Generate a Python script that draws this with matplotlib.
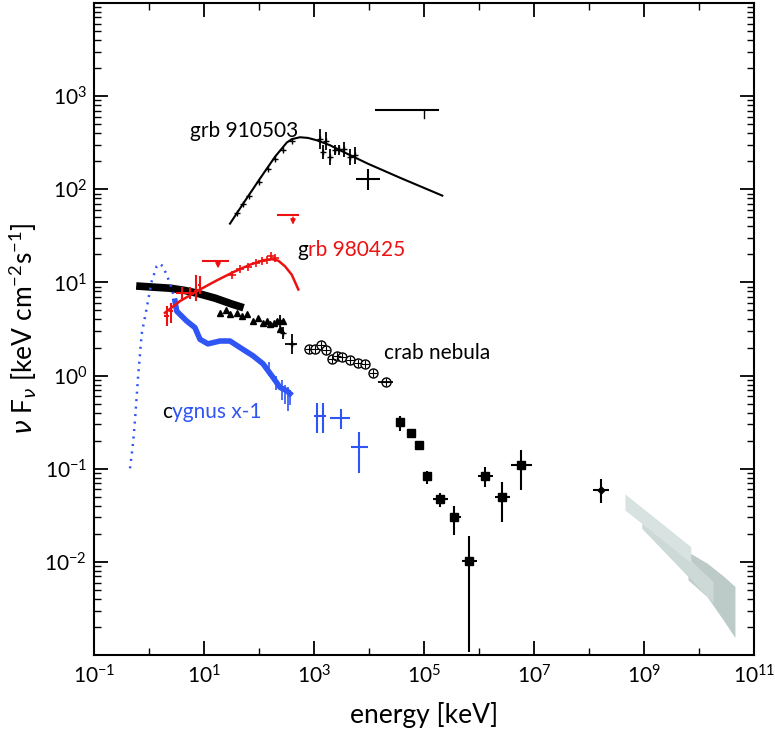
import matplotlib
matplotlib.use("Agg")
import matplotlib.pyplot as plt
from matplotlib.ticker import FixedLocator, FixedFormatter, LogLocator, NullFormatter

plt.rcParams['font.family'] = ['Lato', 'DejaVu Sans']
plt.rcParams['mathtext.default'] = 'regular'
plt.rcParams['axes.unicode_minus'] = False

RED = '#ee1111'
BLUE = '#2f55f5'

# grb 910503 - model curve and data
grb91_e = [29.7, 55.6, 104, 195, 319, 394, 556, 778, 1120, 1954, 3935, 9590, 3.66e4, 2.15e5]
grb91_f = [42.8, 75.0, 130, 223, 317, 345, 362, 356, 336, 297, 242, 188, 133, 85.5]
grb91_pt_e = [39.4, 50.6, 65.8, 98.8, 144, 198, 277, 403]
grb91_pt_f = [55.3, 69.0, 85.5, 121, 165, 209, 263, 333]
grb91_err_e = [1285, 1458, 1652, 1954, 2410, 2850, 3510, 4517, 5560]
grb91_err_f = [348, 252, 330, 223, 265, 272, 272, 223, 234]
grb91_err_lo = [272, 212, 265, 183, 234, 234, 223, 183, 188]
grb91_err_hi = [444, 299, 412, 272, 299, 299, 323, 272, 285]
grb91_big = (9590, 130, 5800, 1.58e4, 98.4, 167)
grb91_ul = (1.34e4, 1.78e5, 708, 1e5, 582)

# grb 980425
grb98_e = [1.95, 3.66, 8.45, 17, 34.1, 68.6, 120, 170, 225, 297, 394, 519]
grb98_f = [4.72, 6.3, 8.4, 10.5, 12.9, 15.5, 17.3, 17.8, 17.1, 14.9, 12.1, 8.4]
grb98_big_e = [2.12, 2.51, 3.98, 5.56, 7.16, 8.45]
grb98_big_f = [4.36, 4.92, 7.67, 7.67, 8.05, 9.33]
grb98_big_lo = [3.40, 3.66, 6.6, 6.6, 6.3, 7.5]
grb98_big_hi = [5.57, 6.0, 8.9, 8.9, 11.9, 11.6]
grb98_big_xlo = [1.87, 2.3, 3.1, 5.0, 6.5, 7.9]
grb98_big_xhi = [2.3, 2.75, 5.0, 6.5, 7.9, 9.0]
grb98_pt_e = [31.9, 45.2, 63.9, 88.1, 113, 140, 165, 195]
grb98_pt_f = [12.1, 14.1, 14.7, 16.2, 16.8, 17.4, 19.0, 18.3]
grb98_ul = [(221, 512, 53.6, 415, 38.9), (9.6, 27.3, 16.8, 18, 13.2)]

# cygnus x-1
disk_e = [0.452, 0.512, 0.556, 0.631, 0.736, 0.908, 1.12, 1.38, 1.54, 1.8, 2.21, 2.59, 2.97]
disk_f = [0.101, 0.187, 0.329, 0.946, 2.8, 5.3, 10.3, 14.9, 15.9, 14.9, 11.1, 8.67, 6.3]
cyg_e = [2.97, 3.19, 4.84, 6.85, 8.45, 11.8, 19.5, 29.7, 45.2, 77.8, 118, 180, 241, 319, 366]
cyg_f = [6.3, 4.92, 3.85, 3.27, 2.45, 2.19, 2.35, 2.35, 2.0, 1.63, 1.34, 0.955, 0.746, 0.689, 0.64]
cyg_sp_e = [150, 200, 260, 300, 340, 370]
cyg_sp_f = [1.2, 0.85, 0.72, 0.66, 0.62, 0.6]
cyg_sp_lo = [1.0, 0.7, 0.55, 0.5, 0.42, 0.48]
cyg_sp_hi = [1.4, 1.0, 0.9, 0.8, 0.75, 0.7]
cyg_hx_e = [1120, 1458, 3100, 6580]
cyg_hx_f = [0.372, 0.372, 0.354, 0.169]
cyg_hx_lo = [0.239, 0.239, 0.270, 0.0893]
cyg_hx_hi = [0.512, 0.512, 0.441, 0.245]
cyg_hx_xlo = [1000, 1290, 1954, 4710]
cyg_hx_xhi = [1290, 1650, 4517, 9590]

# crab nebula
crab_e = [0.686, 1.2, 2.41, 4.5, 7.46, 15.9, 32.3, 45]
crab_f = [9.1, 8.9, 8.67, 8.2, 7.67, 6.78, 5.85, 5.5]
crab_tri_e = [19.5, 25, 29.7, 39.8, 50, 60.5, 77.8, 95, 118, 140, 158, 185, 212, 241, 273]
crab_tri_f = [4.69, 5.0, 4.57, 4.69, 4.4, 4.57, 3.85, 4.1, 3.66, 3.9, 3.57, 3.7, 3.85, 3.16, 3.85]
crab_x_e = [241, 273, 398]
crab_x_f = [3.85, 2.87, 2.19]
crab_x_lo = [3.3, 2.5, 1.71]
crab_x_hi = [4.5, 3.3, 2.8]
crab_x_xlo = [225, 255, 297]
crab_x_xhi = [258, 292, 491]
crab_c_e = [811, 1042, 1340, 1652, 2123, 2618, 3228, 4517, 6310, 8450, 1.18e4, 2.04e4]
crab_c_f = [1.93, 1.93, 2.13, 1.89, 1.51, 1.63, 1.59, 1.47, 1.37, 1.34, 1.07, 0.859]
crab_sq_e = [3.66e4, 5.81e4, 8.11e4, 1.13e5, 1.95e5, 3.51e5, 6.58e5, 1.29e6, 2.62e6, 5.8e6]
crab_sq_f = [0.321, 0.239, 0.178, 0.083, 0.0471, 0.0303, 0.01026, 0.083, 0.0494, 0.109]
crab_sq_lo = [0.257, 0.215, 0.162, 0.0693, 0.0387, 0.0194, 0.00108, 0.0633, 0.0267, 0.0587]
crab_sq_hi = [0.372, 0.265, 0.195, 0.0946, 0.0546, 0.0396, 0.019, 0.1035, 0.0716, 0.157]
crab_sq_xlo = [3.3e4, 5.3e4, 7.5e4, 1.03e5, 1.46e5, 2.97e5, 4.84e5, 9.6e5, 1.95e6, 3.82e6]
crab_sq_xhi = [4.0e4, 6.3e4, 8.7e4, 1.23e5, 2.73e5, 4.71e5, 9.3e5, 1.8e6, 3.66e6, 9.2e6]
crab_gev = (1.65e8, 0.0587, 1.18e8, 2.31e8, 0.0427, 0.077)

# TeV bands
bandA_e = [4.5e8, 7.1e9]
bandA_lo = [0.036, 0.0098]
bandA_hi = [0.0537, 0.01456]
bandB_e = [9.1e8, 1.8e10]
bandB_lo = [0.0229, 0.00365]
bandB_hi = [0.0318, 0.00616]
bandC_e = [6.3e9, 1.4e10, 2.73e10, 4.5e10]
bandC_lo = [0.00643, 0.00423, 0.0024, 0.00154]
bandC_hi = [0.0128, 0.0097, 0.0071, 0.00545]


def asym(v, lo, hi):
    return [[a - b for a, b in zip(v, lo)], [b - a for a, b in zip(v, hi)]]


fig = plt.figure(figsize=(7.75, 7.4), dpi=100)
ax = fig.add_axes([94 / 775, 85 / 740, 660 / 775, 652 / 740])
ax.set_xscale('log')
ax.set_yscale('log')

ax.fill_between(bandC_e, bandC_lo, bandC_hi, color='#bccac8', lw=0)
ax.fill_between(bandB_e, bandB_lo, bandB_hi, color='#ccd9d7', lw=0)
ax.fill_between(bandA_e, bandA_lo, bandA_hi, color='#d8e3e1', lw=0)

# crab
ax.plot(crab_e, crab_f, color='k', lw=5.5)
ax.plot(crab_tri_e, crab_tri_f, 'k^', ms=4.5)
ax.errorbar(crab_x_e, crab_x_f, yerr=asym(crab_x_f, crab_x_lo, crab_x_hi),
            xerr=asym(crab_x_e, crab_x_xlo, crab_x_xhi), fmt='k+', ms=4, lw=1.3)
ax.plot(crab_c_e, crab_c_f, 'o', mfc='white', mec='k', ms=6.5, mew=1)
ax.plot(crab_c_e, crab_c_f, 'k+', ms=5.5, mew=0.8)
ax.errorbar(crab_c_e[-1:], crab_c_f[-1:], xerr=[[crab_c_e[-1] - 1.46e4], [2.73e4 - crab_c_e[-1]]],
            fmt='none', ecolor='k', lw=1.3)
ax.errorbar(crab_sq_e, crab_sq_f, yerr=asym(crab_sq_f, crab_sq_lo, crab_sq_hi),
            xerr=asym(crab_sq_e, crab_sq_xlo, crab_sq_xhi), fmt='ks', ms=6, lw=1.5)
ax.errorbar([crab_gev[0]], [crab_gev[1]], xerr=[[crab_gev[0] - crab_gev[2]], [crab_gev[3] - crab_gev[0]]],
            yerr=[[crab_gev[1] - crab_gev[4]], [crab_gev[5] - crab_gev[1]]], fmt='kD', ms=3.5, lw=1.5)

# cygnus x-1
ax.plot(disk_e, disk_f, color=BLUE, lw=1.8, ls=(0, (0.8, 2.2)))
ax.plot(cyg_e, cyg_f, color=BLUE, lw=4)
ax.errorbar(cyg_sp_e, cyg_sp_f, yerr=asym(cyg_sp_f, cyg_sp_lo, cyg_sp_hi), fmt='none', ecolor=BLUE, lw=1.2)
ax.errorbar(cyg_hx_e, cyg_hx_f, yerr=asym(cyg_hx_f, cyg_hx_lo, cyg_hx_hi),
            xerr=asym(cyg_hx_e, cyg_hx_xlo, cyg_hx_xhi), fmt='none', ecolor=BLUE, lw=1.5)

# grb 980425
ax.plot(grb98_e, grb98_f, color=RED, lw=1.8)
ax.errorbar(grb98_big_e, grb98_big_f, yerr=asym(grb98_big_f, grb98_big_lo, grb98_big_hi),
            xerr=asym(grb98_big_e, grb98_big_xlo, grb98_big_xhi), fmt='none', ecolor=RED, lw=1.5)
ax.plot(grb98_pt_e, grb98_pt_f, '+', color=RED, ms=6, mew=1.2)
for x0, x1, yv, xa, ytip in grb98_ul:
    ax.plot([x0, x1], [yv, yv], color=RED, lw=1.5)
    ax.annotate('', xy=(xa, ytip), xytext=(xa, yv),
                arrowprops=dict(arrowstyle='-|>', color=RED, lw=1.2, mutation_scale=7))

# grb 910503
ax.plot(grb91_e, grb91_f, color='k', lw=1.5)
ax.plot(grb91_pt_e, grb91_pt_f, 'k+', ms=5, mew=1)
ax.errorbar(grb91_err_e, grb91_err_f, yerr=asym(grb91_err_f, grb91_err_lo, grb91_err_hi),
            fmt='k+', ms=5, lw=1.3)
e0, f0, xl, xh, yl, yh = grb91_big
ax.errorbar([e0], [f0], xerr=[[e0 - xl], [xh - e0]], yerr=[[f0 - yl], [yh - f0]], fmt='none', ecolor='k', lw=1.5)
x0, x1, yv, xt, yt = grb91_ul
ax.plot([x0, x1], [yv, yv], color='k', lw=1.5)
ax.plot([xt, xt], [yv, yt], color='k', lw=1)

ax.set_xlim(1e-1, 1e11)
ax.set_ylim(1e-3, 1e4)

# labels: first letter black, rest coloured
ax.text(5.56, 365, 'grb 910503', fontsize=15, color='k')
ax.text(1.87e4, 1.51, 'crab nebula', fontsize=15, color='k')
g1 = ax.text(491, 19.0, 'g', fontsize=15, color='k')
c1 = ax.text(1.72, 0.354, 'c', fontsize=15, color='k')
fig.canvas.draw()
wg = g1.get_window_extent().width * 72 / fig.dpi
wc = c1.get_window_extent().width * 72 / fig.dpi
ax.annotate('rb 980425', xy=(491, 19.0), xytext=(wg, 0), textcoords='offset points',
            fontsize=15, color=RED)
ax.annotate('ygnus x-1', xy=(1.72, 0.354), xytext=(wc, 0), textcoords='offset points',
            fontsize=15, color=BLUE)

xmaj = [10.0 ** k for k in range(-1, 12, 2)]
ax.xaxis.set_major_locator(FixedLocator(xmaj))
ax.xaxis.set_major_formatter(FixedFormatter([r'$\mathregular{10^{%d}}$' % k for k in range(-1, 12, 2)]))
ax.xaxis.set_minor_locator(FixedLocator([10.0 ** k for k in range(0, 11, 2)]))
ax.xaxis.set_minor_formatter(NullFormatter())

ymaj = [10.0 ** k for k in range(-3, 5)]
ax.yaxis.set_major_locator(FixedLocator(ymaj))
ax.yaxis.set_major_formatter(FixedFormatter(
    [''] + [r'$\mathregular{10^{%d}}$' % k for k in range(-2, 4)] + ['']))
ax.yaxis.set_minor_locator(LogLocator(base=10, subs=range(2, 10), numticks=30))
ax.yaxis.set_minor_formatter(NullFormatter())

ax.tick_params(which='both', direction='in', top=True, right=True, labelsize=15)
ax.tick_params(which='major', length=10, width=1.3)
ax.tick_params(which='minor', length=5, width=1)
ax.tick_params(axis='y', which='major', pad=5)
ax.tick_params(axis='x', which='major', pad=7)
for s in ax.spines.values():
    s.set_linewidth(1.5)

ax.set_xlabel('energy [keV]', fontsize=19, labelpad=10)
ax.set_ylabel(r'$\mathit{\nu}$ F$_{\mathit{\nu}}$ [keV cm$^{-2}$s$^{-1}$]', fontsize=19, labelpad=4)

fig.savefig('out.png', dpi=100)
